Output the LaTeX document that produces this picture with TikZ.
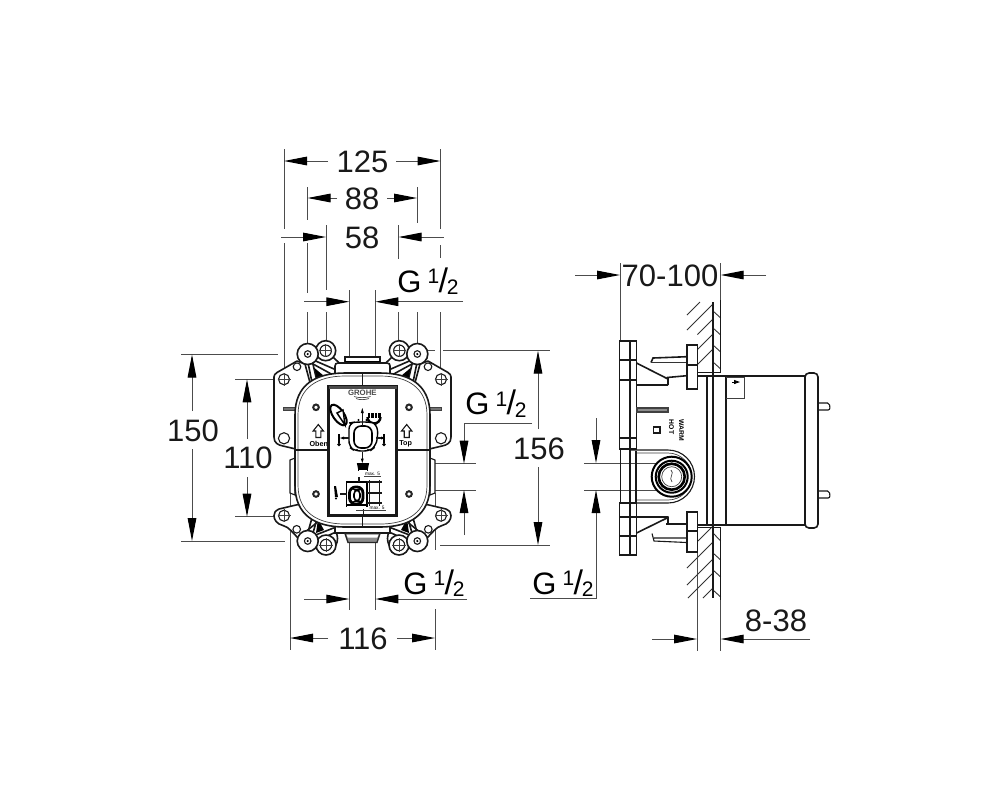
\documentclass[tikz,border=0pt]{standalone}
\usepackage{fontspec}
\setmainfont{Liberation Sans}
\usetikzlibrary{arrows.meta}
\definecolor{dimgray}{gray}{0.3}
\tikzset{
  dimline/.style={draw=dimgray,line width=.5pt},
  dimarrow/.style={dimline,-{Triangle[length=11.5pt,width=4.3pt,color=black]}},
  dimtext/.style={font=\fontsize{15.5}{15.5}\selectfont,inner sep=0pt,text=black!90},
  thick line/.style={line width=.8pt,draw=black!90},
  mid line/.style={line width=.55pt,draw=black!90},
  thin line/.style={line width=.35pt,draw=black!75},
  hatch line/.style={line width=.45pt,draw=black!80},
  tiny text/.style={inner sep=0pt,font=\fontsize{3.6}{4}\selectfont\bfseries},
  micro text/.style={inner sep=0pt,font=\fontsize{2.4}{3}\selectfont},
}
\newcommand{\gthread}{{\fontsize{15.5}{15}\selectfont G\kern3pt\raisebox{4.2pt}{\fontsize{10.5}{10}\selectfont 1}\kern-.3pt{\fontsize{17}{17}\selectfont /}\kern-.6pt\raisebox{-1.2pt}{\fontsize{10.5}{10}\selectfont 2}}}
\newcommand{\crosshole}[3]{%
  \draw[mid line] (#1,#2) circle[radius=#3];
  \draw[thin line] (#1-#3-1,#2) -- (#1+#3+1,#2) (#1,#2-#3-1) -- (#1,#2+#3+1);}
\newcommand{\earquarter}{%
  % plate
  \draw[thick line,fill=white,line join=round] (305,364) -- (297,361) -- (277,372.5) .. controls (275,374) and (274,375) .. (274,377) -- (274,437) .. controls (274,443) and (278,445) .. (283,446) -- (300,450) -- (320,420) -- cycle;
  \draw[mid line] (284,438.3) circle[radius=5.6];
  \crosshole{284}{379.3}{5.5}
  \draw[mid line] (297,366.7) circle[radius=3.8];
  % struts
  \draw[thick line] (308.3,364) -- (311.7,381) (312.7,363) -- (316.7,380);
  \fill[black] (314.5,368) -- (316.7,380) -- (324,376) -- cycle;
  \draw[thick line] (315,360.7) -- (343.3,373) (313,364) -- (335,376);
  \draw[thick line] (333,357) -- (348,371.5) (343.3,373) -- (348,371.5);
  % ear and ring
  \draw[thick line,fill=white] (325.7,350.7) circle[radius=10];
  \crosshole{325.7}{350.7}{5.7}
  \draw[thick line,fill=white] (307.7,354) circle[radius=10.5];
  \draw[mid line] (307.7,354) circle[radius=3.3];
  \fill[black] (307.7,354) circle[radius=1.2];
}
\newcommand{\earbottom}{%
  \draw[thick line,fill=white,line join=round] (296,505) -- (279,509) .. controls (275,511) and (274,513) .. (274,515.7) .. controls (274,520) and (277,524) .. (283,525.5) .. controls (289,527) and (293,533) .. (298,538) -- (320,520) -- (305,503) -- cycle;
  \crosshole{284}{515.7}{5.5}
  \draw[mid line,fill=white] (296.7,529.3) circle[radius=3.8];
  % struts
  \draw[thick line] (308,532) -- (312,518) (313,533) -- (317,519);
  \fill[black] (316,533) -- (318,519) -- (324,530) -- cycle;
  \draw[thick line] (313,536) -- (333.5,528) (316,541) -- (336,532) (333.5,528) -- (340,528);
  \draw[thick line] (336,532) .. controls (338,536) and (338,541) .. (336,545);
  % ear and ring
  \draw[thick line,fill=white] (326,545) circle[radius=10];
  \crosshole{326}{545}{5.7}
  \draw[thick line,fill=white] (307.7,541) circle[radius=10.5];
  \draw[mid line] (307.7,541) circle[radius=3.3];
  \fill[black] (307.7,541) circle[radius=1.2];
}
\newcommand{\frontside}{%
  \earquarter
  \earbottom
  \fill[black!55] (283.3,407) rectangle (296,410);
  \draw[thin line] (283.3,407) rectangle (296,410);
  \draw[mid line,fill=white] (290,460) -- (295,458) -- (295,495) -- (290,493) -- cycle;
}
\newcommand{\frontpanel}{%
  \draw[line width=1pt,draw=black!85] (316,407.3) circle[radius=2.8];
  \draw[line width=1pt,draw=black!85] (316,494) circle[radius=2.8];
  \draw[mid line] (318.3,424.5) -- (323.5,431) -- (320.8,431) -- (320.8,437.5) -- (315.8,437.5) -- (315.8,431) -- (313.1,431) -- cycle;
  \draw[thick line] (295,450) -- (328,450);
}
\begin{document}
\begin{tikzpicture}[x=.5pt,y=-.5pt]
\useasboundingbox (0,0) rectangle (1000,800);
\fill[white] (0,0) rectangle (1000,800);

% ---------- extension lines, front view
\draw[dimline]
  (284,149) -- (284,229) (284,243) -- (284,372)
  (307.5,187) -- (307.5,220) (307.5,243) -- (307.5,293) (307.5,312) -- (307.5,345)
  (326,225) -- (326,290) (326,312) -- (326,342)
  (349.3,290) -- (349.3,357) (375.3,290) -- (375.3,357)
  (398.5,225) -- (398.5,259) (398.5,312) -- (398.5,342)
  (417,187) -- (417,223) (417,312) -- (417,345)
  (440.5,149) -- (440.5,229) (440.5,245) -- (440.5,258) (440.5,312) -- (440.5,372)
  (181,354.5) -- (278,354.5) (181,541) -- (285,541)
  (235,379.3) -- (275,379.3) (235,516.7) -- (275,516.7)
  (427,350.7) -- (435,350.7) (443,350.7) -- (550,350.7)
  (440,545) -- (550,545)
  (435,463.7) -- (476,463.7) (435,490) -- (476,490)
  (290,493) -- (290,650) (435,493) -- (435,550) (435,609) -- (435,650)
  (349.3,543) -- (349.3,610) (375.3,543) -- (375.3,610);

% ---------- dimensions, front view
\draw[dimarrow] (328,161) -- (284,161);
\draw[dimarrow] (396,161) -- (440.5,161);
\node[dimtext] (t125) at (362.5,161.5) {125};
\draw[dimarrow] (337,198) -- (307.5,198);
\draw[dimarrow] (387,198) -- (417,198);
\node[dimtext] (t88) at (362,198.5) {88};
\draw[dimarrow] (281,237) -- (326,237);
\draw[dimarrow] (443.5,237) -- (398.5,237);
\node[dimtext] (t58) at (362,237.5) {58};
\draw[dimarrow] (304,301.7) -- (349.3,301.7);
\draw[dimarrow] (463,301.7) -- (375.3,301.7);
\node[inner sep=0pt] (gtop) at (428,281) {\gthread};
\draw[dimarrow] (192,411) -- (192,354.5);
\draw[dimarrow] (192,449) -- (192,541);
\node[dimtext] (t150) at (193,430.5) {150};
\draw[dimarrow] (247,439) -- (247,379.3);
\draw[dimarrow] (247,477) -- (247,516.7);
\node[dimtext] (t110) at (248,458) {110};
\draw[dimarrow] (538,429) -- (538,350.7);
\draw[dimarrow] (538,467) -- (538,545);
\node[dimtext] (t156) at (539,449) {156};
\draw[dimarrow] (532,423) -- (464,423) -- (464,463.7);
\draw[dimarrow] (464,535) -- (464,490);
\node[inner sep=0pt] (gright) at (496,403.5) {\gthread};
\draw[dimarrow] (304,599) -- (349.3,599);
\draw[dimarrow] (467,599) -- (375.3,599);
\node[inner sep=0pt] (gbottom) at (434,583) {\gthread};
\draw[dimarrow] (328,638) -- (290,638);
\draw[dimarrow] (397,638) -- (435,638);
\node[dimtext] (t116) at (363,638.5) {116};

% ---------- front view
\frontside
\begin{scope}[shift={(725,0)},xscale=-1]
  \frontside
\end{scope}
% nozzles
\draw[thick line,fill=white] (345,363) -- (345,357) -- (380,357) -- (380,363);
\draw[line width=1.1pt,draw=black] (345,362.5) -- (380,362.5);
\draw[thick line,fill=white] (335,373) -- (335,366) .. controls (335,364) and (336,363) .. (338,363) -- (387,363) .. controls (389,363) and (390,364) .. (390,366) -- (390,373);
\draw[thick line,fill=white] (335,527) -- (335,533) -- (390,533) -- (390,527);
\draw[line width=.7pt,draw=black!85,fill=black!45] (345,533.5) -- (348,542.5) -- (377,542.5) -- (380,533.5) -- cycle;
\fill[white] (346.5,534.5) -- (347.8,537.5) -- (377.2,537.5) -- (378.5,534.5) -- cycle;
% rounded housing
\draw[thick line,fill=white] (295,415) .. controls (295,385) and (315,373) .. (345,373) -- (380,373) .. controls (410,373) and (430,385) .. (430,415) -- (430,485) .. controls (430,515) and (410,527) .. (380,527) -- (345,527) .. controls (315,527) and (295,515) .. (295,485) -- cycle;
\draw[thin line] (298,415) .. controls (298,388) and (317,376) .. (345,376) -- (380,376) .. controls (408,376) and (427,388) .. (427,415) -- (427,485) .. controls (427,512) and (408,524) .. (380,524) -- (345,524) .. controls (317,524) and (298,512) .. (298,485) -- cycle;
\frontpanel
\begin{scope}[shift={(725,0)},xscale=-1]
  \frontpanel
\end{scope}
\node[tiny text] (toben) at (318.7,444) {Oben};
\node[tiny text] (ttop) at (405.7,444) {Top};
% panel
\draw[line width=1.3pt,draw=black!90] (328.5,386.5) rectangle (396.5,515.5);
\fill[black!70] (328.5,386) rectangle (396.5,389);
\draw[thick line] (362.3,373) -- (362.3,386) (362.3,516) -- (362.3,527);
\node[inner sep=0pt,font=\fontsize{3.9}{4}\selectfont\bfseries,text=black!70] (tgrohe) at (362.3,393) {GROHE};
\draw[thin line,draw=black!70] (354,396.5) .. controls (358,398) and (366,398) .. (370.5,396.5)
  (356,398.5) .. controls (359,400) and (365,400) .. (369,398.5);
% handle icon
\draw[line width=1pt,rotate around={35:(338.5,415)}] (338.5,415) ellipse[x radius=5.5,y radius=12];
\draw[line width=.7pt,fill=white] (337,413) -- (343,410) -- (345,425) -- cycle;
% shower head
\draw[line width=1.2pt] (367.5,417) arc[start angle=180,end angle=0,radius=6.5];
\fill[black] (367.5,413) rectangle (380.5,418);
\draw[white,line width=.4pt] (370.5,411) -- (370.5,418) (374,409) -- (374,418) (377.5,411) -- (377.5,418);
% centre symbol
\draw[line width=.7pt,fill=white,rounded corners=3pt] (349,423) -- (355,422) -- (371,422) -- (377,424) -- (378,437) -- (375,447) -- (370,451) -- (355,451) -- (349,447) -- (349,437) -- cycle;
\draw[line width=.8pt,fill=white,rounded corners=3.5pt] (354,426) rectangle (372,448);
\draw[mid line] (362.3,425.5) -- (362.3,412);
\fill[black] (362.3,408) -- (360.8,413) -- (363.8,413) -- cycle;
\fill[black] (358.5,420) circle[radius=1.2] (366.5,420) circle[radius=1.2];
\fill[black] (357,450) circle[radius=1.2] (368,450) circle[radius=1.2];
% thermometers and arrows
\draw[mid line] (349,438) -- (343,438);
\draw[mid line] (376,438) -- (382,438);
\fill[black] (340,438) -- (344,436.5) -- (344,439.5) -- cycle;
\fill[black] (385,438) -- (381,436.5) -- (381,439.5) -- cycle;
\draw[line width=1.1pt] (339,434) -- (339,443);
\fill[black] (339,444.5) circle[radius=1.8];
\draw[line width=1.1pt] (384,434) -- (384,443);
\fill[black] (384,444.5) circle[radius=1.8];
\draw[mid line] (362.3,452) -- (362.3,460);
\fill[black] (362.3,463) -- (360.8,458.5) -- (363.8,458.5) -- cycle;
% tub
\draw[line width=.9pt,fill=black] (358,464) -- (368,464) -- (367,469) -- (359,469) -- cycle;
\draw[line width=.5pt] (357,465) -- (357,462.5) (358.5,470) -- (358.5,471) (367,470) -- (367,471);
% lower symbol
\draw[line width=.9pt] (347,482) -- (367,482) (347,505) -- (367,505) (346.5,481) -- (346.5,507) (367,481) -- (367,507);
\draw[mid line] (340,494) -- (347,494);
\fill[black] (336,486) -- (338,497) -- (335,497) -- (334,486) -- cycle;
\fill[black] (336,498.5) circle[radius=1.1];
\draw[line width=1.4pt,rounded corners=3pt] (349.5,487) rectangle (363,504);
\draw[line width=.8pt,rounded corners=2pt] (354,490) rectangle (360,501);
\draw[mid line] (367,482) -- (382,482) (367,493) -- (382,493) (367,503) -- (382,503)
  (369.5,480) -- (369.5,506) (379.5,480) -- (379.5,506);
\draw[mid line] (359,477) -- (359,482) (363.5,509) -- (363.5,516);
\node[micro text] (tmax1) at (372.5,474) {max. 5};
\draw[thin line] (364,476.5) -- (381,476.5);
\node[micro text] (tmax2) at (377,508) {max. 5};
\draw[thin line] (356,510.5) -- (386,510.5);

% ---------- side view: dimensions
\draw[dimline]
  (620,263) -- (620,341) (720.7,263) -- (720.7,300)
  (584,463) -- (657,463) (584,490) -- (657,490)
  (697,551) -- (697,651) (720.7,600) -- (720.7,651);
\draw[dimarrow] (575,275) -- (620,275);
\draw[dimarrow] (766,275) -- (720.7,275);
\node[dimtext] (t70) at (670,275.5) {70-100};
\draw[dimarrow] (596,418) -- (596,463);
\draw[dimarrow] (530,598) -- (596,598) -- (596,490);
\node[inner sep=0pt] (gside) at (563,583) {\gthread};
\draw[dimarrow] (652,639) -- (697,639);
\draw[dimarrow] (810,639) -- (720.7,639);
\node[dimtext] (t8) at (776,621) {8-38};

% ---------- side view: wall
\draw[hatch line]
  (687,315) -- (700,302) (687,330) -- (713,304) (697.5,334.5) -- (713,319)
  (697.5,349.5) -- (713,334) (697.5,364.5) -- (713,349)
  (698,541) -- (713,526) (687,568) -- (713,542) (687,585) -- (713,559)
  (688,598) -- (713,573) (703,598) -- (713,588);
\draw[hatch line]
  (713,311) -- (720.7,318) (713,328) -- (720.7,335) (713,345) -- (720.7,352) (713,362) -- (720.7,369)
  (713,533) -- (720.7,541) (713,553) -- (720.7,560) (713,570) -- (720.7,577) (713,590) -- (720.7,597);
\draw[mid line] (720.7,300) -- (720.7,373) (720.7,527) -- (720.7,600);
\draw[thick line] (712.8,302) -- (712.8,598);
% ---------- side view: body
\draw[thick line,fill=white] (697,375.7) -- (805,375.7) (697,525) -- (805,525);
\draw[mid line] (697,372.7) -- (720.7,372.7) (697,527.5) -- (720.7,527.5);
\draw[thick line] (706.7,375.7) -- (706.7,525) (726,375.7) -- (726,525);
\draw[thick line] (712.8,372) -- (712.8,528);
\draw[thin line] (726,377) -- (744,377) -- (744,398) -- (726,398);
\draw[line width=.4pt,-{Triangle[length=3pt,width=2pt]}] (732,382) -- (740,382);
\draw[thick line,fill=white,rounded corners=2pt] (805,373) rectangle (818,528);
\draw[mid line,rounded corners=1pt] (818,403) -- (829.5,403) -- (830,410) -- (818,410);
\draw[mid line,rounded corners=1pt] (818,491) -- (829.5,491) -- (830,498) -- (818,498);
% ---------- side view: mounting plate
\draw[thick line] (620.5,449) rectangle (630,503);
\draw[mid line] (630,450) -- (668,450) arc[start angle=-90,end angle=90,radius=26.5] -- (630,503);
\draw[thin line] (636,453) -- (668,453) arc[start angle=-90,end angle=90,radius=23.5] -- (636,500);
\draw[mid line] (636,451) -- (636,503);
\draw[thick line,fill=white] (619.5,341) rectangle (636.5,449);
\draw[mid line] (630,341) -- (630,449) (619.5,360) -- (636.5,360) (619.5,380) -- (636.5,380) (619.5,438) -- (636.5,438);
\draw[thick line,fill=white] (619.5,503) rectangle (636.5,555);
\draw[mid line] (630,503) -- (630,555) (619.5,517) -- (636.5,517) (619.5,536) -- (636.5,536);
% latches
\draw[thick line] (636.5,363) -- (668,379) -- (668,385) (667,377.5) -- (686.7,375.7);
\draw[mid line] (636.5,385) -- (668,385);
\draw[thick line] (636.5,533) -- (668,517.5) -- (668,523) (666,524) -- (686.7,524);
\draw[mid line] (636.5,517) -- (668,517);
\draw[thick line] (651,362.5) -- (653,358) -- (686.7,356.7);
\draw[line width=.8pt,draw=black!80] (651,362.5) -- (686.7,362.5);
\draw[mid line] (652,533.5) -- (654,541) -- (686.7,542.5) (654,538) -- (686.7,538);
\draw[line width=1pt,draw=black!75,fill=black!45] (636.5,407.5) rectangle (668,411.5);
\draw[mid line] (653.3,427) rectangle (660,433);
\node[rotate=-90,inner sep=0pt,font=\fontsize{3.4}{4}\selectfont\bfseries] (twarm) at (681.5,430) {WARM};
\node[rotate=-90,inner sep=0pt,font=\fontsize{3.4}{4}\selectfont\bfseries] (thot) at (671.5,427) {HOT};
% flanges
\draw[thick line,fill=white] (686.7,345) rectangle (697.3,389);
\draw[mid line] (686.7,365) -- (697.3,365);
\draw[thick line,fill=white] (686.7,511.7) rectangle (697.3,551.7);
\draw[mid line] (686.7,531) -- (697.3,531);
% union
\draw[line width=1pt,fill=white] (671.7,476.7) circle[radius=20];
\draw[line width=1pt] (671.7,476.7) circle[radius=16];
\draw[line width=1.3pt] (671.7,476.7) circle[radius=13];
\draw[thin line] (671.7,476.7) circle[radius=10];
\draw[thin line] (671,470) .. controls (675,473) and (668,478) .. (672,482);
\end{tikzpicture}
\end{document}
